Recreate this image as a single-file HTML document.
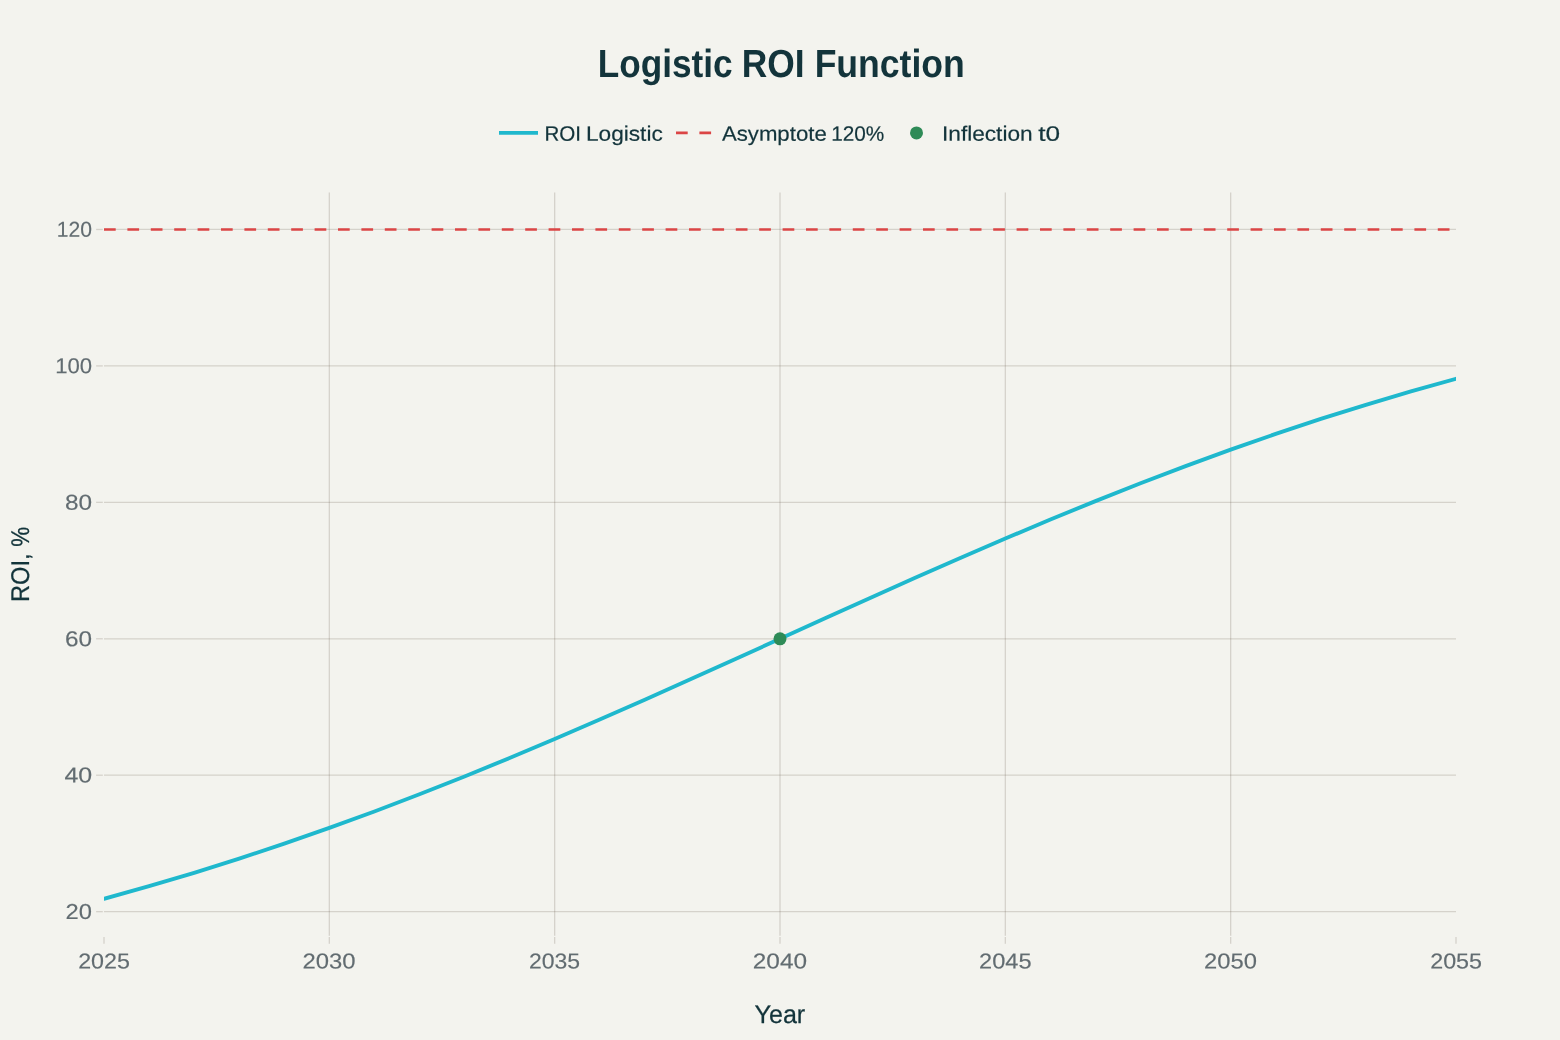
<!DOCTYPE html>
<html lang="en">
<head>
<meta charset="utf-8">
<title>Logistic ROI Function</title>
<style>
html,body{margin:0;padding:0;background:#F3F3EE;}
body{width:1560px;height:1040px;overflow:hidden;}
svg{display:block;}
text{font-family:"Liberation Sans",sans-serif;}
.title{font-weight:bold;font-size:39.2px;fill:#13343B;}
.leg{font-size:20.9px;fill:#13343B;stroke:#13343B;stroke-width:0.2;stroke-linejoin:round;}
.ax{font-size:25.6px;fill:#13343B;stroke:#13343B;stroke-width:0.25;stroke-linejoin:round;}
.tk{font-size:21.6px;fill:#626C71;stroke:#626C71;stroke-width:0.15;stroke-linejoin:round;}
.grid line{stroke:rgba(94,82,64,0.2);stroke-width:1.3;}
.ticks line{stroke:rgba(94,82,64,0.2);stroke-width:1.3;}
</style>
</head>
<body>
<svg width="1560" height="1040" viewBox="0 0 1560 1040">
<rect x="0" y="0" width="1560" height="1040" fill="#F3F3EE"/>
<g class="grid">
<line x1="329.33" y1="192.4" x2="329.33" y2="935.7"/>
<line x1="554.67" y1="192.4" x2="554.67" y2="935.7"/>
<line x1="780" y1="192.4" x2="780" y2="935.7"/>
<line x1="1005.33" y1="192.4" x2="1005.33" y2="935.7"/>
<line x1="1230.67" y1="192.4" x2="1230.67" y2="935.7"/>
<line x1="104" y1="911.65" x2="1456" y2="911.65"/>
<line x1="104" y1="775.21" x2="1456" y2="775.21"/>
<line x1="104" y1="638.78" x2="1456" y2="638.78"/>
<line x1="104" y1="502.34" x2="1456" y2="502.34"/>
<line x1="104" y1="365.91" x2="1456" y2="365.91"/>
<line x1="104" y1="229.47" x2="1456" y2="229.47"/>
</g>
<g class="ticks">
<line x1="104" y1="937" x2="104" y2="943.8"/>
<line x1="329.33" y1="937" x2="329.33" y2="943.8"/>
<line x1="554.67" y1="937" x2="554.67" y2="943.8"/>
<line x1="780" y1="937" x2="780" y2="943.8"/>
<line x1="1005.33" y1="937" x2="1005.33" y2="943.8"/>
<line x1="1230.67" y1="937" x2="1230.67" y2="943.8"/>
<line x1="1456" y1="937" x2="1456" y2="943.8"/>
<line x1="96.1" y1="911.65" x2="102.8" y2="911.65"/>
<line x1="96.1" y1="775.21" x2="102.8" y2="775.21"/>
<line x1="96.1" y1="638.78" x2="102.8" y2="638.78"/>
<line x1="96.1" y1="502.34" x2="102.8" y2="502.34"/>
<line x1="96.1" y1="365.91" x2="102.8" y2="365.91"/>
<line x1="96.1" y1="229.47" x2="102.8" y2="229.47"/>
</g>
<defs><clipPath id="plot"><rect x="104" y="192.4" width="1352" height="743.6"/></clipPath></defs>
<polyline clip-path="url(#plot)" fill="none" stroke="#1FB8CD" stroke-width="3.9" stroke-linejoin="round" points="58.93,910.57 104,898.75 149.07,886.15 194.13,872.77 239.2,858.6 284.27,843.64 329.33,827.93 374.4,811.46 419.47,794.29 464.53,776.46 509.6,758.01 554.67,739.03 599.73,719.57 644.8,699.72 689.87,679.57 734.93,659.23 780,638.78 825.07,618.33 870.13,597.98 915.2,577.84 960.27,557.99 1005.33,538.53 1050.4,519.54 1095.47,501.1 1140.53,483.26 1185.6,466.09 1230.67,449.63 1275.73,433.91 1320.8,418.96 1365.87,404.79 1410.93,391.41 1456,378.81 1501.07,366.98"/>
<line x1="104" y1="229.47" x2="1456" y2="229.47" stroke="#DB4545" stroke-width="2.6" stroke-dasharray="11.7 11.7"/>
<circle cx="780" cy="638.78" r="6.5" fill="#2E8B57"/>
<line x1="499" y1="132.9" x2="538" y2="132.9" stroke="#1FB8CD" stroke-width="3.9"/>
<line x1="676" y1="132.9" x2="715" y2="132.9" stroke="#DB4545" stroke-width="2.6" stroke-dasharray="11.7 11.7"/>
<circle cx="916.5" cy="132.9" r="6.5" fill="#2E8B57"/>
<text id="title" class="title" transform="rotate(0.03 781.3 77.1)"><tspan x="597.75" y="77.1" textLength="134.85" lengthAdjust="spacingAndGlyphs">Logistic</tspan> <tspan x="741.75" y="77.1" textLength="62.87" lengthAdjust="spacingAndGlyphs">ROI</tspan> <tspan x="814.65" y="77.1" textLength="150.17" lengthAdjust="spacingAndGlyphs">Function</tspan></text>
<text id="leg1" class="leg" transform="rotate(0.03 604.15 140.8)"><tspan x="544.5" y="140.8" textLength="36.54" lengthAdjust="spacingAndGlyphs">ROI</tspan> <tspan x="585.95" y="140.8" textLength="76.85" lengthAdjust="spacingAndGlyphs">Logistic</tspan></text>
<text id="leg2" class="leg" transform="rotate(0.03 802.8 140.8)"><tspan x="721.9" y="140.8" textLength="104.85" lengthAdjust="spacingAndGlyphs">Asymptote</tspan> <tspan x="831.2" y="140.8" textLength="53.18" lengthAdjust="spacingAndGlyphs">120%</tspan></text>
<text id="leg3" class="leg" transform="rotate(0.03 1001.6 140.8)"><tspan x="942" y="140.8" textLength="90.62" lengthAdjust="spacingAndGlyphs">Inflection</tspan> <tspan x="1038.25" y="140.8" textLength="21.88" lengthAdjust="spacingAndGlyphs">t0</tspan></text>
<text id="year" class="ax" transform="rotate(0.03 780 1022.9)"><tspan x="754.5" y="1022.9" textLength="50.7" lengthAdjust="spacingAndGlyphs">Year</tspan></text>
<text id="x2025" class="tk" transform="rotate(0.03 104.1 968.55)"><tspan x="78.2" y="968.55" textLength="51.74" lengthAdjust="spacingAndGlyphs">2025</tspan></text>
<text id="x2030" class="tk" transform="rotate(0.03 329.25 968.55)"><tspan x="302.6" y="968.55" textLength="53.03" lengthAdjust="spacingAndGlyphs">2030</tspan></text>
<text id="x2035" class="tk" transform="rotate(0.03 554.5 968.55)"><tspan x="528.9" y="968.55" textLength="51.11" lengthAdjust="spacingAndGlyphs">2035</tspan></text>
<text id="x2040" class="tk" transform="rotate(0.03 780 968.55)"><tspan x="752.8" y="968.55" textLength="54.18" lengthAdjust="spacingAndGlyphs">2040</tspan></text>
<text id="x2045" class="tk" transform="rotate(0.03 1005.35 968.55)"><tspan x="979.1" y="968.55" textLength="52.46" lengthAdjust="spacingAndGlyphs">2045</tspan></text>
<text id="x2050" class="tk" transform="rotate(0.03 1230.65 968.55)"><tspan x="1204.1" y="968.55" textLength="52.83" lengthAdjust="spacingAndGlyphs">2050</tspan></text>
<text id="x2055" class="tk" transform="rotate(0.03 1456.15 968.55)"><tspan x="1430.2" y="968.55" textLength="51.84" lengthAdjust="spacingAndGlyphs">2055</tspan></text>
<text id="y120" class="tk" transform="rotate(0.03 74.8 236.87)"><tspan x="56.8" y="236.87" textLength="35.23" lengthAdjust="spacingAndGlyphs">120</tspan></text>
<text id="y100" class="tk" transform="rotate(0.03 74 373.31)"><tspan x="55.2" y="373.31" textLength="36.94" lengthAdjust="spacingAndGlyphs">100</tspan></text>
<text id="y80" class="tk" transform="rotate(0.03 78.6 509.74)"><tspan x="64.9" y="509.74" textLength="27.13" lengthAdjust="spacingAndGlyphs">80</tspan></text>
<text id="y60" class="tk" transform="rotate(0.03 78.65 646.18)"><tspan x="65" y="646.18" textLength="27.06" lengthAdjust="spacingAndGlyphs">60</tspan></text>
<text id="y40" class="tk" transform="rotate(0.03 78.15 782.61)"><tspan x="64.5" y="782.61" textLength="27.74" lengthAdjust="spacingAndGlyphs">40</tspan></text>
<text id="y20" class="tk" transform="rotate(0.03 78.95 919.05)"><tspan x="65.6" y="919.05" textLength="26.41" lengthAdjust="spacingAndGlyphs">20</tspan></text>
<text id="roi" class="ax" transform="translate(29.1,600.2) rotate(-89.97)"><tspan x="-1.75" y="0" textLength="48.5" lengthAdjust="spacingAndGlyphs">ROI,</tspan> <tspan x="53.45" y="0" textLength="19.82" lengthAdjust="spacingAndGlyphs">%</tspan></text>
</svg>
</body>
</html>
